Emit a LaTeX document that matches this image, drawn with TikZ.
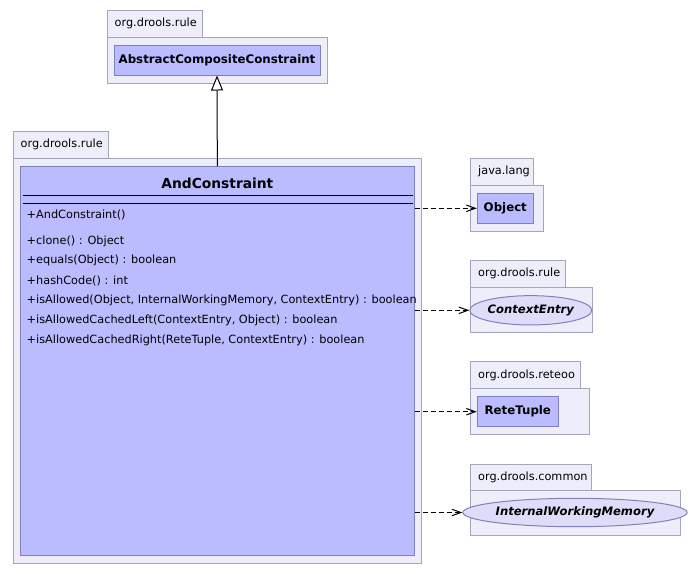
\documentclass[tikz,border=0pt]{standalone}
\usepackage{fontspec}
\setmainfont{DejaVu Sans}
\usetikzlibrary{arrows.meta,shapes.geometric}
\definecolor{pkgfill}{RGB}{238,238,251}
\definecolor{pkgline}{RGB}{164,164,188}
\definecolor{clsfill}{RGB}{187,187,255}
\definecolor{clsline}{RGB}{128,128,184}
\definecolor{ifcfill}{RGB}{221,221,250}
\begin{document}
\begin{tikzpicture}[x=1pt,y=-1pt,
  pkg/.style={draw=pkgline,fill=pkgfill,line width=1pt},
  pkgname/.style={anchor=west,inner sep=0pt,font=\fontsize{11.3}{13}\selectfont},
  cls/.style={rectangle,draw=clsline,fill=clsfill,line width=1pt,inner sep=0pt},
  ifc/.style={ellipse,draw=clsline,fill=ifcfill,line width=1pt,inner sep=0pt},
  clsname/.style={font=\bfseries\fontsize{11.8}{14}\selectfont},
  ifcname/.style={font=\bfseries\itshape\fontsize{11.6}{14}\selectfont},
  member/.style={anchor=west,inner sep=0pt,font=\fontsize{11.3}{13}\selectfont},
  dep/.style={draw,line width=1pt,dash pattern=on 5pt off 3pt,
    -{Straight Barb[length=9pt,width=6.5pt,line width=1pt]}},
  gen/.style={draw,line width=1pt,-{Triangle[open,length=15pt,width=12pt,fill=white,line width=1pt]}}
]
\useasboundingbox[fill=white] (0,0) rectangle (694,574);

% package org.drools.rule (parent class)
\draw[pkg] (107,10) rectangle (202.7,37);
\draw[pkg] (107,37) rectangle (327.7,83);
\node[pkgname] (p1) at (114.5,23.5) {org.drools.rule};
\node[cls,clsname,minimum width=206pt,minimum height=30pt] (abs) at (217,60) {AbstractCompositeConstraint};

% package org.drools.rule (AndConstraint)
\draw[pkg] (13,131) rectangle (108,158);
\draw[pkg] (13,158) rectangle (421.7,563);
\node[pkgname] (p2) at (20.5,144.5) {org.drools.rule};
\node[cls,minimum width=393.3pt,minimum height=388.3pt] (andc) at (217.35,360.85) {};
\node[font=\bfseries\fontsize{13.8}{16}\selectfont,inner sep=0pt] (title) at (217.35,183) {AndConstraint};
\draw[line width=1pt] (22.7,195) -- (412.7,195);
\draw[line width=1pt] (22.7,203.3) -- (412.7,203.3);
\node[member] (m0) at (26.5,215) {+AndConstraint()};
\node[member] (m1) at (26.5,241) {+clone() : Object};
\node[member] (m2) at (26.5,260.7) {+equals(Object) : boolean};
\node[member] (m3) at (26.5,280.7) {+hashCode() : int};
\node[member] (m4) at (26.5,300.7) {+isAllowed(Object, InternalWorkingMemory, ContextEntry) : boolean};
\node[member] (m5) at (26.5,320.7) {+isAllowedCachedLeft(ContextEntry, Object) : boolean};
\node[member] (m6) at (26.5,340.7) {+isAllowedCachedRight(ReteTuple, ContextEntry) : boolean};

% package java.lang
\draw[pkg] (470.3,158.3) rectangle (533,185);
\draw[pkg] (470.3,185) rectangle (543.3,231);
\node[pkgname] (p3) at (478,171.7) {java.lang};
\node[cls,clsname,minimum width=56pt,minimum height=30pt] (obj) at (505.3,208.3) {Object};

% package org.drools.rule (ContextEntry)
\draw[pkg] (470.3,260.7) rectangle (565.3,287);
\draw[pkg] (470.3,287) rectangle (592.3,332.3);
\node[pkgname] (p4) at (478,273.8) {org.drools.rule};
\node[ifc,ifcname,minimum width=107pt,minimum height=29.3pt] (ctx) at (530.8,310.3) {ContextEntry};

% package org.drools.reteoo
\draw[pkg] (470.3,361.7) rectangle (580,388.3);
\draw[pkg] (470.3,388.3) rectangle (589.3,434.3);
\node[pkgname] (p5) at (478,375) {org.drools.reteoo};
\node[cls,clsname,minimum width=81pt,minimum height=30pt] (rete) at (517.8,411.7) {ReteTuple};

% package org.drools.common
\draw[pkg] (470.3,464) rectangle (591.7,490.7);
\draw[pkg] (470.3,490.7) rectangle (680,535.7);
\node[pkgname] (p6) at (478,477.3) {org.drools.common};
\node[ifc,ifcname,minimum width=195.4pt,minimum height=28.4pt] (iwm) at (575,512.5) {InternalWorkingMemory};

% relations
\draw[gen] (andc.north) -- (abs.south);
\draw[dep] (obj.west -| andc.east) -- (obj.west);
\draw[dep] (ctx.west -| andc.east) -- (ctx.west);
\draw[dep] (rete.west -| andc.east) -- (rete.west);
\draw[dep] (iwm.west -| andc.east) -- (iwm.west);
\end{tikzpicture}
\end{document}
